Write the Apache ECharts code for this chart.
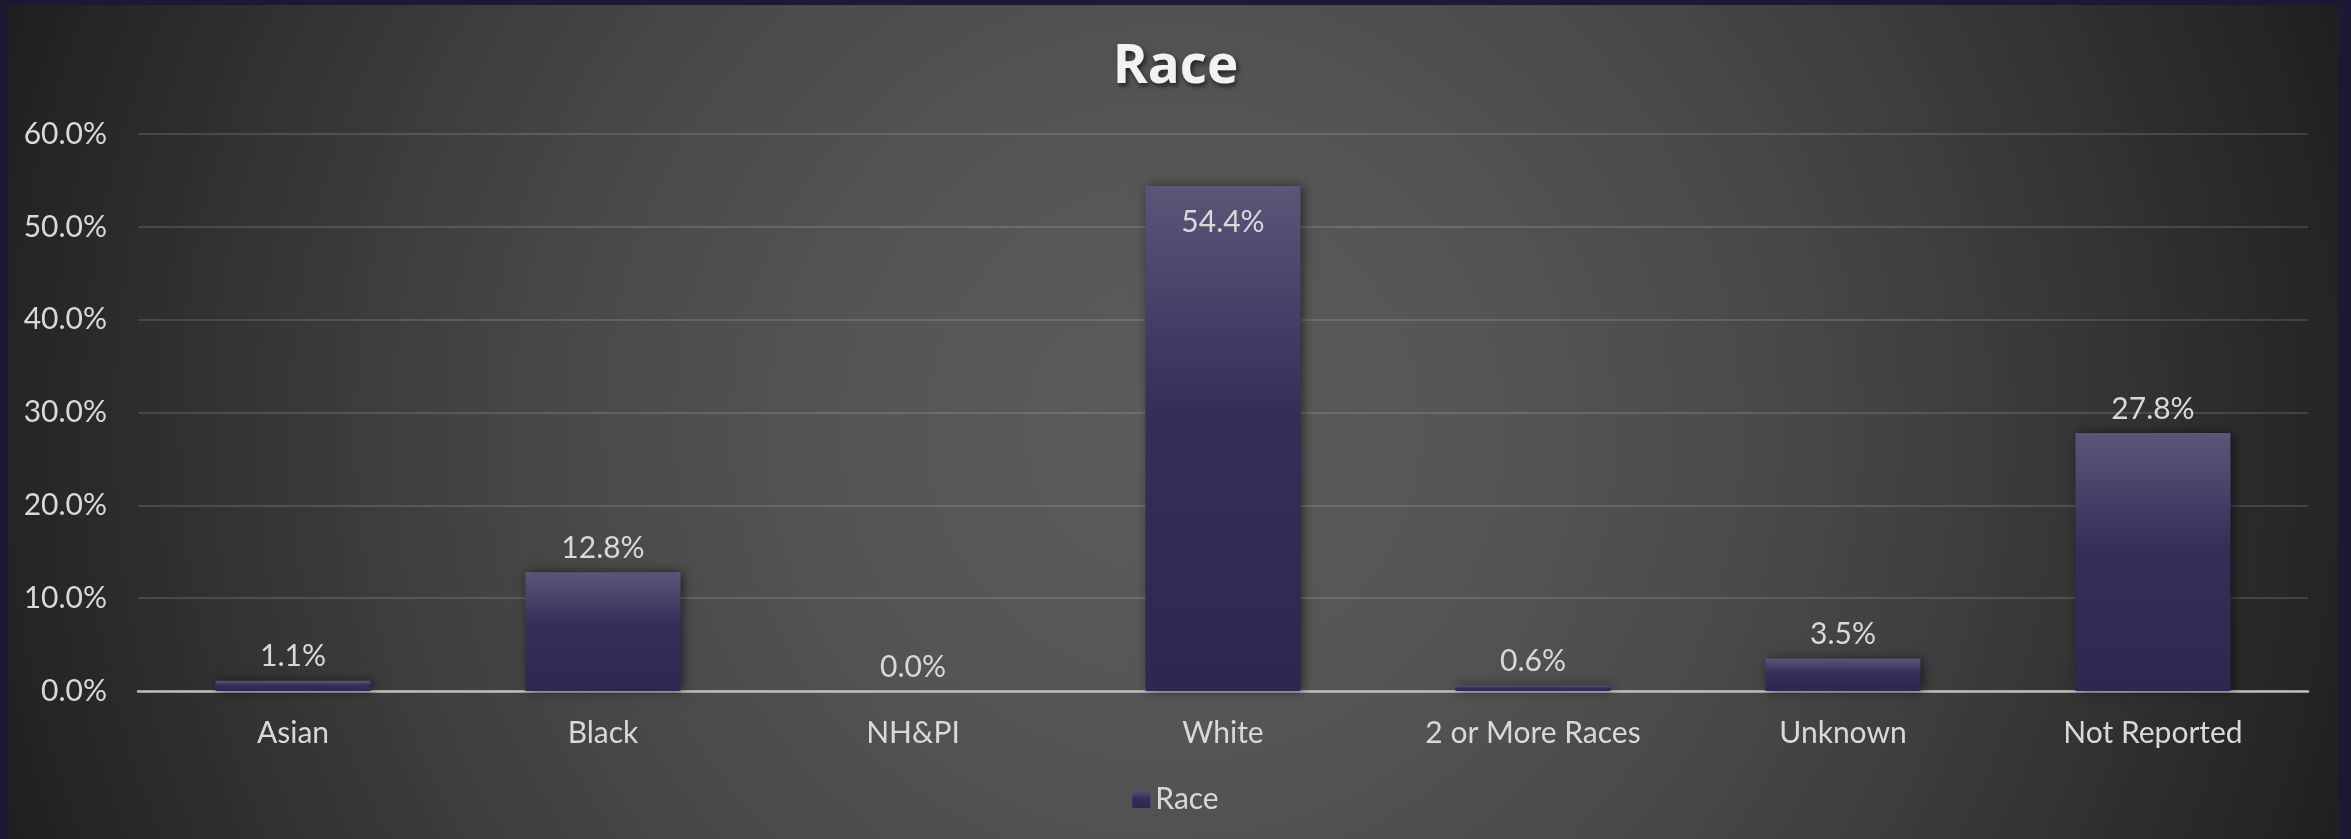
<!DOCTYPE html>
<html>
<head>
<meta charset="utf-8">
<title>Race</title>
<script src="https://cdn.jsdelivr.net/npm/echarts@6/dist/echarts.min.js"></script>
<style>
  html, body { margin: 0; padding: 0; width: 2351px; height: 839px; overflow: hidden; background: #1c1a33; }
  #panel {
    position: absolute; left: 8px; top: 5px; width: 2330px; height: 834px;
    background: radial-gradient(circle farthest-corner at 50% 51%,
      #5c5c5c 0%, #555555 25%, #4b4b4b 45%, #3d3d3d 65%, #2c2c2c 85%, #1f1f1f 100%);
  }
  #chart { position: absolute; left: 0; top: 0; width: 2351px; height: 839px; }
</style>
</head>
<body>
<div id="panel"></div>
<div id="chart"></div>
<script>
// Share of records by race, in percent
const categories = ['Asian', 'Black', 'NH&PI', 'White', '2 or More Races', 'Unknown', 'Not Reported'];
const raceShare = [1.1, 12.8, 0.0, 54.4, 0.6, 3.5, 27.8];
const seriesName = 'Race';
const chartTitle = 'Race';

const FONT = 'Lato, "Open Sans", sans-serif';
const TEXT = '#d9d9d9';

const barFill = new echarts.graphic.LinearGradient(0, 0, 0, 1, [
  { offset: 0, color: '#5b5677' },
  { offset: 0.45, color: '#342e5b' },
  { offset: 1, color: '#2d2752' }
]);

const chart = echarts.init(document.getElementById('chart'), null, { renderer: 'canvas' });

chart.setOption({
  backgroundColor: 'transparent',
  animation: false,
  title: {
    text: chartTitle,
    left: 'center',
    top: 36,
    textStyle: {
      fontFamily: '"Open Sans", Lato, sans-serif',
      fontWeight: 'bold',
      fontSize: 53,
      color: '#f2f2f2',
      textShadowColor: 'rgba(0,0,0,0.6)',
      textShadowBlur: 5,
      textShadowOffsetX: 2,
      textShadowOffsetY: 3
    }
  },
  legend: {
    data: [seriesName],
    bottom: 20,
    left: 'center',
    icon: 'rect',
    itemWidth: 18,
    itemHeight: 18,
    itemGap: 10,
    textStyle: { fontFamily: FONT, fontSize: 30, color: TEXT }
  },
  grid: { left: 138, right: 43, top: 134, bottom: 148, containLabel: false },
  xAxis: {
    type: 'category',
    data: categories,
    axisTick: { show: false },
    axisLine: { show: true, lineStyle: { color: '#bfbfbf', width: 2.5 } },
    axisLabel: { fontFamily: FONT, fontSize: 30, color: TEXT, margin: 27 }
  },
  yAxis: {
    type: 'value',
    min: 0,
    max: 60,
    interval: 10,
    axisLine: { show: false },
    axisTick: { show: false },
    splitLine: { lineStyle: { color: 'rgba(255,255,255,0.13)', width: 2 } },
    axisLabel: {
      fontFamily: FONT, fontSize: 30, color: TEXT, margin: 31,
      formatter: v => v.toFixed(1) + '%'
    }
  },
  series: [{
    name: seriesName,
    type: 'bar',
    data: raceShare.map(v => {
      const item = { value: v };
      if (v > 40) {
        item.label = { position: 'insideTop', distance: 21 };
      }
      return item;
    }),
    barWidth: '50%',
    itemStyle: {
      color: barFill,
      shadowColor: 'rgba(0,0,0,0.55)',
      shadowBlur: 10,
      shadowOffsetX: 2,
      shadowOffsetY: 0
    },
    label: {
      show: true,
      position: 'top',
      distance: 9,
      fontFamily: FONT,
      fontSize: 30,
      color: TEXT,
      formatter: p => p.value.toFixed(1) + '%'
    }
  }]
});
</script>
</body>
</html>
